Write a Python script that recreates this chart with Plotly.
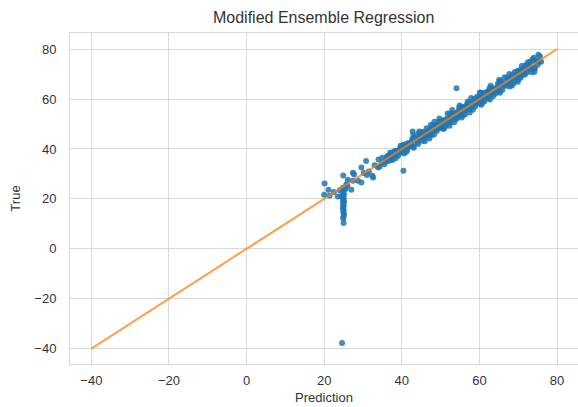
import plotly.graph_objects as go

# ---- data (prediction = x, true = y) ----
sparse_pred = [20.1, 20.0, 21.4, 22.5, 23.5, 24.0, 25.5, 26.0, 24.9, 26.1, 27.7, 28.7, 29.6, 27.4,
               29.6, 30.8, 32.4, 33.9, 34.8, 35.5, 36.4, 32.6, 31.5, 33.0, 34.0, 35.0, 36.0, 37.0,
               37.5, 38.0, 38.5, 21.1, 25.7, 27.0, 27.4, 24.4, 30.2, 31.0, 34.3, 35.8]
sparse_true = [26.2, 21.7, 21.3, 22.8, 21.0, 23.5, 24.0, 25.3, 29.4, 27.7, 29.8, 27.3, 26.6, 30.5,
               32.6, 35.2, 29.3, 32.6, 34.5, 33.9, 37.2, 28.6, 31.0, 33.5, 35.8, 36.5, 35.0, 38.5,
               36.0, 37.5, 39.2, 23.7, 25.8, 23.7, 27.3, 21.1, 30.4, 29.6, 33.0, 35.4]

column_pred = [24.9, 25.0, 24.8, 25.1, 24.9, 25.0, 24.9, 25.1, 25.0, 24.9, 25.0, 24.8, 25.0, 24.9,
               25.1, 25.0, 24.9, 25.0, 24.9]
column_true = [24.5, 23.8, 22.9, 22.0, 21.2, 20.5, 19.8, 19.0, 18.3, 17.6, 17.0, 16.2, 15.5, 14.7,
               13.9, 13.0, 12.1, 10.3, 18.6]

band_pred = [36.2, 36.8, 37.3, 37.9, 38.4, 38.8, 39.3, 39.7, 40.1, 40.6,
             41.0, 41.4, 41.9, 42.3, 42.7, 43.1, 43.6, 44.0, 44.4, 44.9,
             45.3, 45.7, 46.2, 46.6, 47.0, 47.5, 47.9, 48.3, 48.8, 49.2,
             49.6, 50.0, 50.5, 50.9, 51.3, 51.8, 52.2, 52.6, 53.1, 53.5,
             53.9, 54.4, 54.8, 55.2, 55.7, 56.1, 56.5, 57.0, 57.4, 57.8,
             58.3, 58.7, 59.1, 59.6, 60.0, 60.4, 60.9, 61.3, 61.7, 62.2,
             62.6, 63.0, 63.5, 63.9, 64.3, 64.8, 65.2, 65.6, 66.1, 66.5,
             66.9, 67.4, 67.8, 68.2, 68.7, 69.1, 69.5, 70.0, 70.4, 70.8,
             71.3, 71.7, 72.1, 72.6, 73.0, 73.4, 73.9, 74.3, 74.7, 75.4,
             36.5, 37.1, 37.6, 38.1, 38.6, 39.0, 39.5, 40.0, 40.4, 40.8,
             41.2, 41.7, 42.1, 42.5, 42.9, 43.4, 43.8, 44.2, 44.7, 45.1,
             45.5, 46.0, 46.4, 46.8, 47.3, 47.7, 48.1, 48.6, 49.0, 49.4,
             49.8, 50.3, 50.7, 51.1, 51.6, 52.0, 52.4, 52.9, 53.3, 53.7,
             54.2, 54.6, 55.0, 55.5, 55.9, 56.3, 56.8, 57.2, 57.6, 58.1,
             58.5, 58.9, 59.4, 59.8, 60.2, 60.7, 61.1, 61.5, 62.0, 62.4,
             62.8, 63.3, 63.7, 64.1, 64.6, 65.0, 65.4, 65.9, 66.3, 66.7,
             67.2, 67.6, 68.0, 68.5, 68.9, 69.3, 69.8, 70.2, 70.6, 71.1,
             71.5, 71.9, 72.4, 72.8, 73.2, 73.7, 74.1, 74.5, 75.0, 75.6,
             40.2, 41.5, 42.8, 44.1, 45.4, 46.7, 48.0, 49.3, 50.6, 51.9,
             53.2, 54.5, 55.8, 57.1, 58.4, 59.7, 61.0, 62.3, 63.6, 64.9,
             66.2, 67.5, 68.8, 70.1, 71.4, 72.7, 38.2, 39.9, 47.2, 56.6,
             75.9, 74.2, 72.5, 75.2, 74.0,
             43.0, 45.9, 48.4, 50.8, 53.0, 55.4, 57.9, 60.5, 62.9, 65.3,
             67.7, 69.9, 44.5, 47.1, 49.7, 52.3, 54.9, 57.5, 60.1, 62.7,
             65.1, 68.4, 70.9, 73.6]
band_true = [37.0, 35.3, 38.5, 37.3, 36.3, 39.2, 38.3, 41.3, 39.8, 38.2,
             41.9, 39.6, 42.1, 41.4, 44.1, 40.5, 44.1, 42.7, 46.3, 44.5,
             43.3, 46.8, 45.5, 46.9, 45.4, 49.7, 47.7, 45.8, 49.7, 48.1,
             51.1, 49.5, 48.3, 51.6, 50.1, 54.2, 52.1, 50.7, 54.1, 50.7,
             54.3, 53.0, 56.6, 54.4, 53.4, 56.9, 56.2, 59.0, 55.7, 57.9,
             55.7, 60.0, 58.2, 60.2, 58.2, 62.5, 60.5, 59.1, 62.7, 61.1,
             64.3, 62.4, 61.1, 64.2, 63.0, 66.3, 63.2, 66.3, 65.3, 68.8,
             65.4, 68.3, 65.1, 68.4, 67.7, 70.9, 69.0, 67.9, 71.6, 69.5,
             71.9, 69.8, 73.5, 71.9, 75.0, 72.2, 75.0, 72.3, 75.2, 75.0,
             36.1, 37.4, 35.6, 39.1, 37.8, 37.2, 40.1, 38.8, 41.7, 40.7,
             38.9, 42.4, 41.0, 42.6, 41.0, 44.6, 43.5, 42.0, 45.5, 46.7,
             44.9, 44.3, 48.3, 45.8, 47.9, 45.6, 49.4, 47.9, 47.2, 49.7,
             48.4, 51.2, 50.4, 48.7, 52.1, 50.5, 54.1, 52.0, 53.5, 52.1,
             52.1, 55.2, 54.0, 56.8, 55.4, 53.8, 57.9, 57.0, 58.5, 56.8,
             58.7, 57.0, 60.9, 59.1, 60.6, 58.4, 62.3, 60.9, 60.3, 63.2,
             61.6, 64.2, 63.3, 62.1, 64.7, 63.9, 67.3, 63.6, 66.7, 65.8,
             68.6, 66.8, 66.2, 69.6, 66.5, 69.5, 71.3, 69.5, 68.6, 72.0,
             70.6, 73.6, 70.8, 73.2, 72.7, 76.0, 72.7, 75.5, 73.8, 77.1,
             40.3, 41.0, 43.4, 43.9, 45.7, 46.1, 48.2, 48.9, 51.1, 51.6,
             53.6, 54.3, 55.2, 57.4, 58.3, 60.2, 60.6, 62.5, 63.1, 65.5,
             66.0, 67.9, 68.5, 70.2, 70.9, 73.0, 37.9, 40.3, 46.4, 55.7,
             75.0, 71.0, 74.8, 77.8, 76.6,
             45.6, 43.1, 50.9, 48.0, 55.6, 52.6, 60.4, 57.7, 65.4, 62.5,
             70.1, 67.0, 47.0, 44.2, 52.2, 49.3, 57.4, 54.6, 62.6, 59.8,
             67.8, 65.5, 73.3, 70.8]

outlier_pred = [24.6, 54.1, 40.4, 42.8]
outlier_true = [-37.8, 64.4, 31.3, 47.0]

line_ends = [-40, 80]

pred = sparse_pred + column_pred + band_pred + outlier_pred
true = sparse_true + column_true + band_true + outlier_true

FONT = "Liberation Sans, Arial, sans-serif"
TXT = "#333333"
GRID = "#d9d9d9"

fig = go.Figure()
fig.add_trace(go.Scatter(
    x=pred, y=true, mode="markers",
    marker=dict(color="rgba(31,119,180,0.85)", size=6, line=dict(width=0)),
    showlegend=False, hoverinfo="skip"))
fig.add_trace(go.Scatter(
    x=line_ends, y=line_ends, mode="lines",
    line=dict(color="rgba(255,127,14,0.75)", width=2),
    showlegend=False, hoverinfo="skip"))

fig.update_layout(
    width=578, height=407,
    margin=dict(l=70, r=0, t=33, b=43),
    paper_bgcolor="white", plot_bgcolor="white",
    font=dict(family=FONT, size=13, color=TXT),
    title=dict(text="Modified Ensemble Regression", x=0.56, xanchor="center",
               y=1 - 17 / 407, yanchor="middle",
               font=dict(family=FONT, size=16, color=TXT)),
    xaxis=dict(range=[-45.5, 85.4], tickvals=[-40, -20, 0, 20, 40, 60, 80],
               showgrid=True, gridcolor=GRID, gridwidth=1, zeroline=False,
               showline=True, linecolor=GRID, linewidth=1, mirror=True,
               ticks="outside", ticklen=4, tickcolor="rgba(0,0,0,0)",
               tickfont=dict(size=13, color=TXT),
               title=dict(text="Prediction", font=dict(size=13, color=TXT), standoff=6)),
    yaxis=dict(range=[-46.2, 86.5], tickvals=[-40, -20, 0, 20, 40, 60, 80],
               showgrid=True, gridcolor=GRID, gridwidth=1, zeroline=False,
               showline=True, linecolor=GRID, linewidth=1, mirror=False,
               ticks="outside", ticklen=10, tickcolor="rgba(0,0,0,0)",
               tickfont=dict(size=13, color=TXT),
               title=dict(text="True", font=dict(size=13, color=TXT), standoff=10)),
)

fig.write_html("out.html")
